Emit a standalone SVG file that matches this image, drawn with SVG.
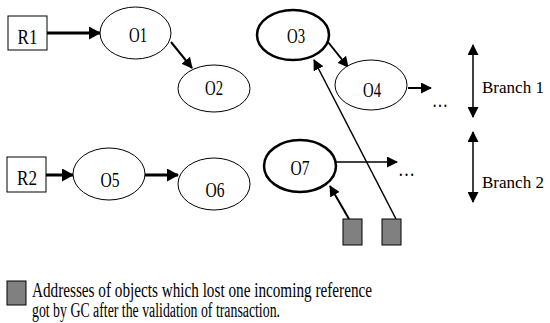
<svg xmlns="http://www.w3.org/2000/svg" width="550" height="323" viewBox="0 0 550 323">
<style>
text{font-family:"Liberation Serif","Times New Roman",serif;font-size:20px;fill:#000}
.lbl{text-anchor:middle}
.br{font-size:17.5px}
.n{fill:#fff;stroke:#000;stroke-width:1}
.nt{fill:#fff;stroke:#000;stroke-width:2.5}
.r{fill:#fff;stroke:#000;stroke-width:1}
.g{fill:#808080;stroke:#000;stroke-width:1}
.c{stroke:#000;fill:none}
</style>
<defs>
<marker id="ab" markerWidth="12" markerHeight="13" refX="11" refY="6.5" orient="auto" markerUnits="userSpaceOnUse"><path d="M0,0 L12,6.5 L0,13 z" fill="#000"/></marker>
<marker id="as" markerWidth="11" markerHeight="11" refX="10" refY="5.5" orient="auto-start-reverse" markerUnits="userSpaceOnUse"><path d="M0,0 L11,5.5 L0,11 z" fill="#000"/></marker>
</defs>
<g id="connectors">
<line class="c" x1="47" y1="33" x2="100" y2="33" stroke-width="3" marker-end="url(#ab)"/>
<line class="c" x1="171" y1="42" x2="192" y2="68" stroke-width="2" marker-end="url(#as)"/>
<line class="c" x1="328" y1="42" x2="348" y2="67" stroke-width="2" marker-end="url(#as)"/>
<line class="c" x1="408" y1="88" x2="431" y2="88" stroke-width="2" marker-end="url(#as)"/>
<line class="c" x1="46" y1="175" x2="73" y2="175" stroke-width="3" marker-end="url(#ab)"/>
<line class="c" x1="145" y1="175" x2="178" y2="175" stroke-width="3" marker-end="url(#ab)"/>
<line class="c" x1="336" y1="162" x2="397" y2="162" stroke-width="1.5" marker-end="url(#as)"/>
<line class="c" x1="349" y1="219" x2="330" y2="186" stroke-width="2" marker-end="url(#as)"/>
<line class="c" x1="396" y1="219" x2="314" y2="60" stroke-width="1.5" marker-end="url(#as)"/>
<line class="c" x1="473" y1="45" x2="473" y2="117" stroke-width="1.5" marker-start="url(#as)" marker-end="url(#as)"/>
<line class="c" x1="473" y1="132" x2="473" y2="202" stroke-width="1.5" marker-start="url(#as)" marker-end="url(#as)"/>
</g>
<g id="R1"><rect class="r" x="8" y="16" width="39" height="34"/><text class="lbl" x="27.5" y="44" textLength="20" lengthAdjust="spacingAndGlyphs">R1</text></g>
<g id="O1"><ellipse class="n" cx="135.5" cy="33" rx="35.5" ry="26"/><text class="lbl" x="138" y="42" textLength="18" lengthAdjust="spacingAndGlyphs">O1</text></g>
<g id="O2"><ellipse class="n" cx="214" cy="88.5" rx="36" ry="23.5"/><text class="lbl" x="214" y="95" textLength="18" lengthAdjust="spacingAndGlyphs">O2</text></g>
<g id="O3"><ellipse class="nt" cx="293" cy="35" rx="36" ry="25"/><text class="lbl" x="296" y="43" textLength="18" lengthAdjust="spacingAndGlyphs">O3</text></g>
<g id="O4"><ellipse class="n" cx="371" cy="85" rx="36" ry="25"/><text class="lbl" x="372" y="97" textLength="18" lengthAdjust="spacingAndGlyphs">O4</text></g>
<g id="dots1"><text x="432" y="107" textLength="16" lengthAdjust="spacingAndGlyphs">…</text></g>
<g id="Branch1"><text class="br" x="482" y="93" textLength="62" lengthAdjust="spacingAndGlyphs">Branch 1</text></g>
<g id="R2"><rect class="r" x="7" y="157" width="39" height="35"/><text class="lbl" x="27" y="185" textLength="20" lengthAdjust="spacingAndGlyphs">R2</text></g>
<g id="O5"><ellipse class="n" cx="109" cy="174" rx="36" ry="26"/><text class="lbl" x="110" y="187" textLength="19" lengthAdjust="spacingAndGlyphs">O5</text></g>
<g id="O6"><ellipse class="n" cx="214" cy="184" rx="36" ry="26"/><text class="lbl" x="215" y="197" textLength="19" lengthAdjust="spacingAndGlyphs">O6</text></g>
<g id="O7"><ellipse class="nt" cx="300" cy="166" rx="36" ry="26"/><text class="lbl" x="300" y="175" textLength="19" lengthAdjust="spacingAndGlyphs">O7</text></g>
<g id="dots2"><text x="398" y="176" textLength="17" lengthAdjust="spacingAndGlyphs">…</text></g>
<g id="Branch2"><text class="br" x="482" y="188" textLength="62" lengthAdjust="spacingAndGlyphs">Branch 2</text></g>
<g id="addr1"><rect class="g" x="343" y="219" width="19" height="26"/></g>
<g id="addr2"><rect class="g" x="382" y="219" width="19" height="26"/></g>
<g id="legend">
<rect class="g" x="7" y="281" width="19" height="24"/>
<text x="32" y="297" textLength="340" lengthAdjust="spacingAndGlyphs">Addresses of objects which lost one incoming reference</text>
<text x="32" y="317" textLength="248" lengthAdjust="spacingAndGlyphs">got by GC after the validation of transaction.</text>
</g>
</svg>
